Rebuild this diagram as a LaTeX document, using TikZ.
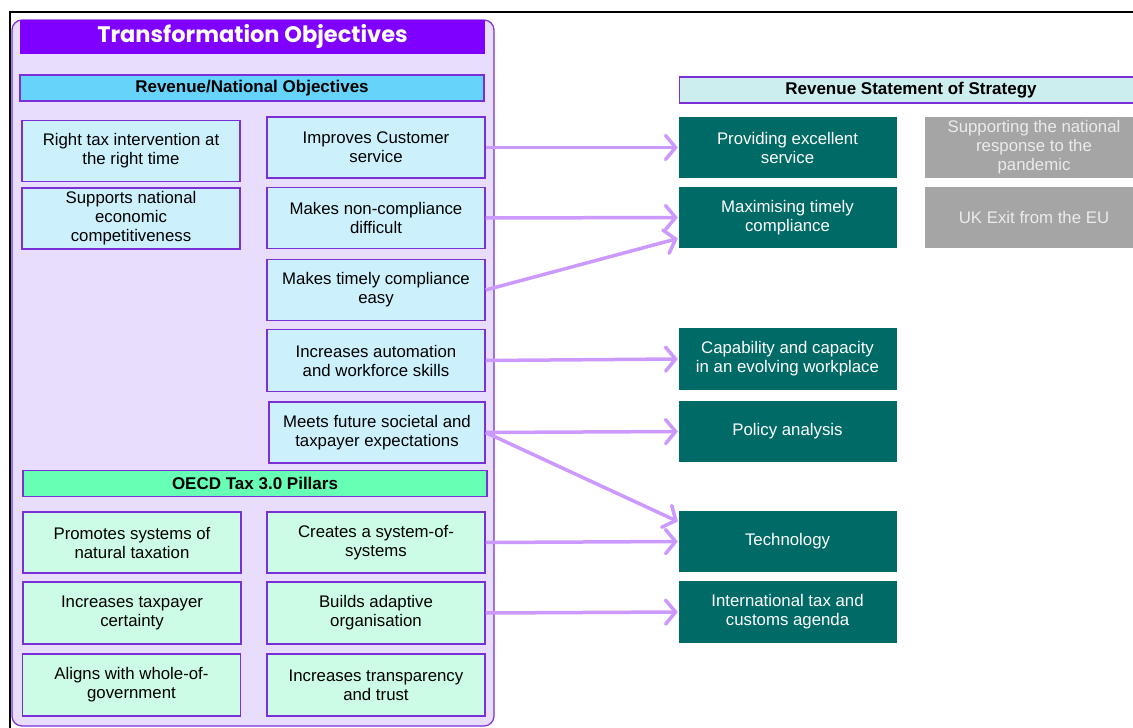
\documentclass[tikz,border=0pt]{standalone}
\usepackage{fontspec}
\setmainfont{Liberation Sans}
\newfontfamily\titlefont{Poppins}
\usetikzlibrary{arrows.meta}
\definecolor{framepurple}{HTML}{7B2FD6}
\definecolor{panelfill}{HTML}{E9DDFD}
\definecolor{titlefill}{HTML}{7F00FF}
\definecolor{skyfill}{HTML}{66D4FA}
\definecolor{bluebox}{HTML}{CCF1FD}
\definecolor{mintfill}{HTML}{66FFB3}
\definecolor{mintbox}{HTML}{CCFBE6}
\definecolor{tealbox}{HTML}{006B66}
\definecolor{greybox}{HTML}{A5A5A5}
\definecolor{stratfill}{HTML}{CCEEEE}
\definecolor{arrowlilac}{HTML}{CC99FF}
\begin{document}
\begin{tikzpicture}[x=1pt,y=-1pt,
  box/.style={draw=framepurple,line width=1.3pt,rectangle,inner sep=0pt,
    minimum width=218pt,minimum height=61pt,align=center,
    font=\fontsize{16.8}{19}\selectfont},
  objbox/.style={box,fill=bluebox},
  pillarbox/.style={box,fill=mintbox},
  stratbox/.style={box,draw=none,fill=tealbox,text=white},
  otherbox/.style={box,draw=none,fill=greybox,text=white!92!black},
  headbar/.style={draw=framepurple,line width=1.3pt,rectangle,inner sep=0pt,
    minimum height=26pt,font=\fontsize{17}{19}\selectfont\bfseries},
  arr/.style={arrowlilac,line width=3.5pt,
    -{Straight Barb[length=10pt,width=24pt,line cap=round]}}]
\useasboundingbox (0,0) rectangle (1133,728);
\draw[line width=1.2pt] (10,728) -- (10,12) -- (1133,12);
\draw[framepurple,fill=panelfill,line width=1.2pt,rounded corners=10pt]
  (12,20) rectangle (494,726);
\node[fill=titlefill,minimum width=465pt,minimum height=34pt,inner sep=0pt,
  text=white,font=\titlefont\fontsize{22.5}{25}\selectfont\bfseries]
  (title) at (252.5,36.5) {Transformation Objectives};
\node[headbar,fill=skyfill,minimum width=464pt] (revhead) at (252,88) {Revenue/National Objectives};
\node[headbar,fill=mintfill,minimum width=464pt] (oecdhead) at (255,483.5) {OECD Tax 3.0 Pillars};
\node[headbar,fill=stratfill,minimum width=463pt] (strathead) at (911,90) {Revenue Statement of Strategy};

\node[objbox] (L1) at (131,151) {Right tax intervention at\\the right time};
\node[objbox] (L2) at (131,218.5) {Supports national\\economic\\competitiveness};
\node[objbox] (R1) at (376,147.5) {Improves Customer\\service};
\node[objbox] (R2) at (376,218) {Makes non-compliance\\difficult};
\node[objbox] (R3) at (376,290) {Makes timely compliance\\easy};
\node[objbox,minimum height=62pt] (R4) at (376,360.5) {Increases automation\\and workforce skills};
\node[objbox,minimum width=216pt] (R5) at (377,432.5) {Meets future societal and\\taxpayer expectations};

\node[pillarbox] (G1) at (132,542.5) {Promotes systems of\\natural taxation};
\node[pillarbox] (G2) at (376,542.5) {Creates a system-of-\\systems};
\node[pillarbox,minimum height=62pt] (G3) at (132,613) {Increases taxpayer\\certainty};
\node[pillarbox,minimum height=62pt] (G4) at (376,613) {Builds adaptive\\organisation};
\node[pillarbox,minimum height=62pt] (G5) at (131.5,685) {Aligns with whole-of-\\government};
\node[pillarbox,minimum height=62pt] (G6) at (376,685) {Increases transparency\\and trust};

\node[stratbox] (T1) at (787.5,147.5) {Providing excellent\\service};
\node[stratbox] (T2) at (787.5,217.5) {Maximising timely\\compliance};
\node[stratbox,minimum height=62pt] (T3) at (787.5,359) {Capability and capacity\\in an evolving workplace};
\node[stratbox] (T4) at (787.5,431.5) {Policy analysis};
\node[stratbox] (T5) at (787.5,541.5) {Technology};
\node[stratbox,minimum height=62pt] (T6) at (787.5,612) {International tax and\\customs agenda};
\node[otherbox] (U1) at (1034,147.5) {Supporting the national\\response to the\\pandemic};
\node[otherbox] (U2) at (1034,217.5) {UK Exit from the EU};

\foreach \a/\b in {R1/T1,R2/T2,R4/T3,R5/T4,G2/T5,G4/T6}
\draw[arr] (\a.east) -- (\b.west);
\draw[arr] (R3.east) -- ([yshift=-21pt]T2.west);
\draw[arr] (R5.east) -- ([yshift=20pt]T5.west);
\end{tikzpicture}
\end{document}
